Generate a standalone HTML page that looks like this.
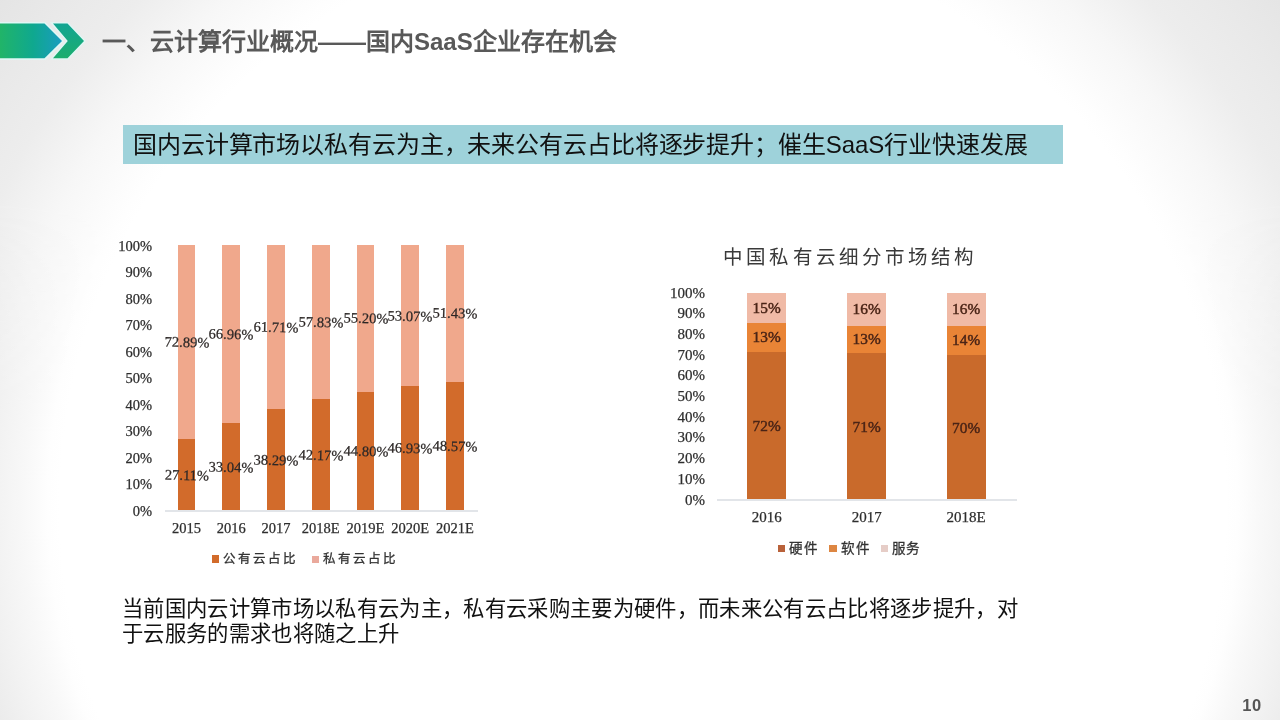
<!DOCTYPE html>
<html lang="zh-CN"><head><meta charset="utf-8"><title>云计算行业概况</title>
<style>
html,body{margin:0;padding:0}
body{width:1280px;height:720px;overflow:hidden;position:relative;font-family:"Liberation Sans",sans-serif;
background:radial-gradient(circle 595px at 643px 506px,#ffffff 0%,#ffffff 98%,#fefefe 100%,#f8f8f8 104%,#f1f1f1 109.6%,#e8e8e8 116.5%,#e6e6e6 125%,#e4e4e4 140%);}
#bgtop{position:absolute;left:0;top:0;width:1280px;height:440px;background:radial-gradient(circle 595px at 643px 506px,#ffffff 0%,#ffffff 98%,#fefefe 100%,#f7f7f7 110%,#ededed 120%,#e9e9e9 128.7%,#e5e5e5 136.5%,#e2e2e2 144%);-webkit-mask-image:linear-gradient(to bottom,#000 0,#000 200px,transparent 420px);mask-image:linear-gradient(to bottom,#000 0,#000 200px,transparent 420px)}
#title,#band span,#note,#pg{will-change:transform}
#hdr{position:absolute;left:0;top:18px}
#title{position:absolute;left:102px;top:24px;font-size:24px;line-height:36px;font-weight:bold;color:#595959;white-space:nowrap;letter-spacing:0}
#band{position:absolute;left:123px;top:125px;width:940px;height:38.5px;background:#9ed2da}
#band span{position:absolute;left:10px;top:1px;line-height:38px;font-size:24px;letter-spacing:-.11px;color:#111;white-space:nowrap}
#note{position:absolute;left:122px;top:596.5px;width:920px;white-space:nowrap;font-size:21.33px;line-height:25.4px;letter-spacing:.333px;color:#111}
#pg{position:absolute;left:1236px;top:695px;width:32px;text-align:center;font-size:16.5px;line-height:20px;letter-spacing:.6px;font-weight:bold;color:#555}
.chart{position:absolute;font-family:"Liberation Serif",serif;color:#2e2e2e;-webkit-text-stroke:.25px #2e2e2e;filter:blur(0.5px)}
.chart div{position:absolute;white-space:nowrap}
.yl{text-align:right;font-size:14.5px;line-height:16px;height:16px}
.xl{text-align:center;font-size:14.5px;line-height:16px;height:16px}
.dl{text-align:center;font-size:14.5px;line-height:16px;height:16px;color:#2e2624}
.lg{font-size:12.5px;line-height:14px;letter-spacing:2px;color:#333;-webkit-text-stroke:.3px #333}
.lg2{font-size:13.5px;letter-spacing:1.6px}
</style></head><body>
<div id="bgtop"></div>
<svg id="hdr" width="100" height="46" viewBox="0 18 100 46">
<defs><linearGradient id="g1" x1="0" y1="0" x2="1" y2="0"><stop offset="0" stop-color="#22b566"/><stop offset="0.55" stop-color="#0fa88f"/><stop offset="1" stop-color="#1a9cc0"/></linearGradient>
<linearGradient id="g2" x1="0" y1="0" x2="0" y2="1"><stop offset="0" stop-color="#12a592"/><stop offset="1" stop-color="#1cad6e"/></linearGradient></defs>
<polygon points="-2,23.6 44.5,23.6 62,40.9 44.5,58.3 -2,58.3" fill="url(#g1)" stroke="#e0f7f5" stroke-width="3.2" paint-order="stroke" stroke-linejoin="miter"/>
<polygon points="53,23.6 67.5,23.6 84,40.9 67.5,58.3 53,58.3 67.8,40.9" fill="url(#g2)" stroke="#e0f7f5" stroke-width="2.8" paint-order="stroke"/>
</svg>
<div id="title">一、云计算行业概况——国内SaaS企业存在机会</div>
<div id="band"><span>国内云计算市场以私有云为主，未来公有云占比将逐步提升；催生SaaS行业快速发展</span></div>
<div class="chart" id="c1" style="left:0;top:0;width:640px;height:600px">
<div class="yl" style="left:102px;width:50px;top:237.5px">100%</div>
<div class="yl" style="left:102px;width:50px;top:264.0px">90%</div>
<div class="yl" style="left:102px;width:50px;top:290.5px">80%</div>
<div class="yl" style="left:102px;width:50px;top:317.0px">70%</div>
<div class="yl" style="left:102px;width:50px;top:343.5px">60%</div>
<div class="yl" style="left:102px;width:50px;top:370.0px">50%</div>
<div class="yl" style="left:102px;width:50px;top:396.5px">40%</div>
<div class="yl" style="left:102px;width:50px;top:423.0px">30%</div>
<div class="yl" style="left:102px;width:50px;top:449.5px">20%</div>
<div class="yl" style="left:102px;width:50px;top:476.0px">10%</div>
<div class="yl" style="left:102px;width:50px;top:502.5px">0%</div>
<div style="left:165px;top:510.0px;width:313px;height:1.5px;background:#e2e5e9"></div>
<div style="left:177.70px;top:245.0px;width:17.6px;height:193.52px;background:#f0a88c"></div><div style="left:177.70px;top:438.52px;width:17.6px;height:71.98px;background:#d26b2b"></div>
<div style="left:222.45px;top:245.0px;width:17.6px;height:177.78px;background:#f0a88c"></div><div style="left:222.45px;top:422.78px;width:17.6px;height:87.72px;background:#d26b2b"></div>
<div style="left:267.20px;top:245.0px;width:17.6px;height:163.84px;background:#f0a88c"></div><div style="left:267.20px;top:408.84px;width:17.6px;height:101.66px;background:#d26b2b"></div>
<div style="left:311.95px;top:245.0px;width:17.6px;height:153.54px;background:#f0a88c"></div><div style="left:311.95px;top:398.54px;width:17.6px;height:111.96px;background:#d26b2b"></div>
<div style="left:356.70px;top:245.0px;width:17.6px;height:146.56px;background:#f0a88c"></div><div style="left:356.70px;top:391.56px;width:17.6px;height:118.94px;background:#d26b2b"></div>
<div style="left:401.45px;top:245.0px;width:17.6px;height:140.90px;background:#f0a88c"></div><div style="left:401.45px;top:385.90px;width:17.6px;height:124.60px;background:#d26b2b"></div>
<div style="left:446.20px;top:245.0px;width:17.6px;height:136.55px;background:#f0a88c"></div><div style="left:446.20px;top:381.55px;width:17.6px;height:128.95px;background:#d26b2b"></div>
<div class="dl" style="left:156.50px;width:60px;top:333.8px;transform:rotate(1.5deg)">72.89%</div><div class="dl" style="left:156.50px;width:60px;top:466.5px;transform:rotate(1.5deg)">27.11%</div><div class="xl" style="left:156.50px;width:60px;top:520px">2015</div>
<div class="dl" style="left:201.25px;width:60px;top:325.9px;transform:rotate(1.5deg)">66.96%</div><div class="dl" style="left:201.25px;width:60px;top:458.6px;transform:rotate(1.5deg)">33.04%</div><div class="xl" style="left:201.25px;width:60px;top:520px">2016</div>
<div class="dl" style="left:246.00px;width:60px;top:318.9px;transform:rotate(1.5deg)">61.71%</div><div class="dl" style="left:246.00px;width:60px;top:451.7px;transform:rotate(1.5deg)">38.29%</div><div class="xl" style="left:246.00px;width:60px;top:520px">2017</div>
<div class="dl" style="left:290.75px;width:60px;top:313.8px;transform:rotate(1.5deg)">57.83%</div><div class="dl" style="left:290.75px;width:60px;top:446.5px;transform:rotate(1.5deg)">42.17%</div><div class="xl" style="left:290.75px;width:60px;top:520px">2018E</div>
<div class="dl" style="left:335.50px;width:60px;top:310.3px;transform:rotate(1.5deg)">55.20%</div><div class="dl" style="left:335.50px;width:60px;top:443.0px;transform:rotate(1.5deg)">44.80%</div><div class="xl" style="left:335.50px;width:60px;top:520px">2019E</div>
<div class="dl" style="left:380.25px;width:60px;top:307.5px;transform:rotate(1.5deg)">53.07%</div><div class="dl" style="left:380.25px;width:60px;top:440.2px;transform:rotate(1.5deg)">46.93%</div><div class="xl" style="left:380.25px;width:60px;top:520px">2020E</div>
<div class="dl" style="left:425.00px;width:60px;top:305.3px;transform:rotate(1.5deg)">51.43%</div><div class="dl" style="left:425.00px;width:60px;top:438.0px;transform:rotate(1.5deg)">48.57%</div><div class="xl" style="left:425.00px;width:60px;top:520px">2021E</div>
<div style="left:211.5px;top:555.3px;width:7px;height:7.5px;background:#d26b2b"></div><div class="lg" style="left:222.8px;top:552px">公有云占比</div>
<div style="left:312px;top:555.5px;width:6.5px;height:7.5px;background:#eaa99c"></div><div class="lg" style="left:322.5px;top:552px">私有云占比</div>
</div>
<div class="chart" id="c2" style="left:0;top:0;width:1280px;height:600px">
<div style="left:723.3px;top:245px;font-size:19.5px;line-height:26px;letter-spacing:3.1px;color:#3a3a3a;-webkit-text-stroke:0">中国私有云细分市场结构</div>
<div class="yl" style="left:655px;width:50px;top:284.5px;font-size:15px">100%</div>
<div class="yl" style="left:655px;width:50px;top:305.2px;font-size:15px">90%</div>
<div class="yl" style="left:655px;width:50px;top:325.9px;font-size:15px">80%</div>
<div class="yl" style="left:655px;width:50px;top:346.6px;font-size:15px">70%</div>
<div class="yl" style="left:655px;width:50px;top:367.3px;font-size:15px">60%</div>
<div class="yl" style="left:655px;width:50px;top:388.0px;font-size:15px">50%</div>
<div class="yl" style="left:655px;width:50px;top:408.7px;font-size:15px">40%</div>
<div class="yl" style="left:655px;width:50px;top:429.4px;font-size:15px">30%</div>
<div class="yl" style="left:655px;width:50px;top:450.1px;font-size:15px">20%</div>
<div class="yl" style="left:655px;width:50px;top:470.8px;font-size:15px">10%</div>
<div class="yl" style="left:655px;width:50px;top:491.5px;font-size:15px">0%</div>
<div style="left:717px;top:499.0px;width:300px;height:1.5px;background:#e2e5e9"></div>
<div style="left:747px;top:292.5px;width:39.25px;height:30.60px;background:#f0baa6"></div><div style="left:747px;top:323.10px;width:39.25px;height:28.50px;background:#e98436"></div><div style="left:747px;top:351.60px;width:39.25px;height:147.90px;background:#c96a2b"></div>
<div class="dl" style="left:736.625px;width:60px;top:299.5px;color:#4a2416;font-size:15.3px;-webkit-text-stroke:.45px #4a2416">15%</div><div class="dl" style="left:736.625px;width:60px;top:329.1px;color:#4a2416;font-size:15.3px;-webkit-text-stroke:.45px #4a2416">13%</div><div class="dl" style="left:736.625px;width:60px;top:418.4px;color:#4a2416;font-size:15.3px;-webkit-text-stroke:.45px #4a2416">72%</div><div class="xl" style="left:736.625px;width:60px;top:509px;font-size:15px">2016</div>
<div style="left:847px;top:292.5px;width:39.25px;height:33.12px;background:#f0baa6"></div><div style="left:847px;top:325.62px;width:39.25px;height:26.91px;background:#e98436"></div><div style="left:847px;top:352.53px;width:39.25px;height:146.97px;background:#c96a2b"></div>
<div class="dl" style="left:836.625px;width:60px;top:300.8px;color:#4a2416;font-size:15.3px;-webkit-text-stroke:.45px #4a2416">16%</div><div class="dl" style="left:836.625px;width:60px;top:330.8px;color:#4a2416;font-size:15.3px;-webkit-text-stroke:.45px #4a2416">13%</div><div class="dl" style="left:836.625px;width:60px;top:418.8px;color:#4a2416;font-size:15.3px;-webkit-text-stroke:.45px #4a2416">71%</div><div class="xl" style="left:836.625px;width:60px;top:509px;font-size:15px">2017</div>
<div style="left:946.5px;top:292.5px;width:39.25px;height:33.12px;background:#f0baa6"></div><div style="left:946.5px;top:325.62px;width:39.25px;height:28.98px;background:#e98436"></div><div style="left:946.5px;top:354.60px;width:39.25px;height:144.90px;background:#c96a2b"></div>
<div class="dl" style="left:936.125px;width:60px;top:300.8px;color:#4a2416;font-size:15.3px;-webkit-text-stroke:.45px #4a2416">16%</div><div class="dl" style="left:936.125px;width:60px;top:331.8px;color:#4a2416;font-size:15.3px;-webkit-text-stroke:.45px #4a2416">14%</div><div class="dl" style="left:936.125px;width:60px;top:419.9px;color:#4a2416;font-size:15.3px;-webkit-text-stroke:.45px #4a2416">70%</div><div class="xl" style="left:936.125px;width:60px;top:509px;font-size:15px">2018E</div>
<div style="left:778px;top:544.7px;width:7.2px;height:7.6px;background:#b9623a"></div><div class="lg lg2" style="left:789px;top:542.3px">硬件</div>
<div style="left:829.3px;top:544.7px;width:7.4px;height:7.6px;background:#dd8642"></div><div class="lg lg2" style="left:841.4px;top:542.3px">软件</div>
<div style="left:880.5px;top:544.7px;width:7.4px;height:7.6px;background:#e6cdc7"></div><div class="lg lg2" style="left:891.5px;top:542.3px">服务</div>
</div>
<div id="note">当前国内云计算市场以私有云为主，私有云采购主要为硬件，而未来公有云占比将逐步提升，对<br>于云服务的需求也将随之上升</div>
<div id="pg">10</div>
</body></html>
